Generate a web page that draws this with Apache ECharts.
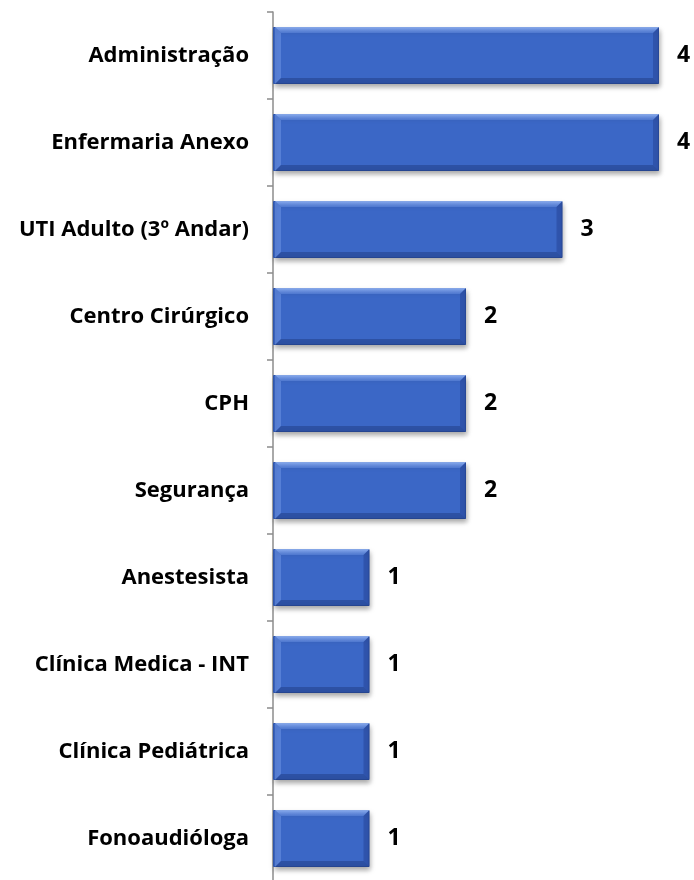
<!DOCTYPE html>
<html>
<head>
<meta charset="utf-8">
<script src="https://cdn.jsdelivr.net/npm/echarts@6/dist/echarts.min.js"></script>
<style>
  html, body { margin: 0; padding: 0; background: #fff; }
  #chart { width: 694px; height: 880px; }
</style>
</head>
<body>
<div id="chart"></div>
<script>
// Occurrences per sector
const categories = [
  'Administração', 'Enfermaria Anexo', 'UTI Adulto (3º Andar)', 'Centro Cirúrgico',
  'CPH', 'Segurança', 'Anestesista', 'Clínica Medica - INT', 'Clínica Pediátrica', 'Fonoaudióloga'
];
const counts = [4, 4, 3, 2, 2, 2, 1, 1, 1, 1];

const FONT = '"Open Sans", Lato, sans-serif';
const BAR_W = 57;
const BEVEL = 6;

const chart = echarts.init(document.getElementById('chart'));

// bevelled edges drawn over each bar
function renderBevel(params, api) {
  const idx = api.value(1);
  const val = api.value(0);
  const p0 = api.coord([0, idx]);
  const p1 = api.coord([val, idx]);
  const x0 = p0[0] + 2, x1 = p1[0];
  const y0 = p0[1] - BAR_W / 2, y1 = p0[1] + BAR_W / 2;
  const b = BEVEL;
  return {
    type: 'group',
    children: [
      { type: 'polygon', shape: { points: [[x0, y0], [x1, y0], [x1 - b, y0 + b], [x0 + b, y0 + b]] },
        style: { fill: new echarts.graphic.LinearGradient(0, 0, 0, 1, [
          { offset: 0, color: 'rgba(170,200,255,0.75)' }, { offset: 1, color: 'rgba(120,160,240,0.35)' }]) } },
      { type: 'polygon', shape: { points: [[x0, y0], [x0 + b, y0 + b], [x0 + b, y1 - b], [x0, y1]] },
        style: { fill: 'rgba(140,175,245,0.35)' } },
      { type: 'polygon', shape: { points: [[x0, y1], [x1, y1], [x1 - b, y1 - b], [x0 + b, y1 - b]] },
        style: { fill: 'rgba(20,40,100,0.35)' } },
      { type: 'polygon', shape: { points: [[x1, y0], [x1, y1], [x1 - b, y1 - b], [x1 - b, y0 + b]] },
        style: { fill: 'rgba(20,40,110,0.28)' } }
    ]
  };
}

chart.setOption({
  animation: false,
  grid: { left: 273, width: 386, top: 12, height: 870, outerBoundsMode: 'none', containLabel: false },
  xAxis: { type: 'value', min: 0, max: 4, show: false },
  yAxis: {
    type: 'category',
    data: categories,
    inverse: true,
    axisLine: { show: true, lineStyle: { color: '#8c8c8c', width: 1.5 } },
    axisTick: { show: true, length: 6, lineStyle: { color: '#8c8c8c', width: 1.5 } },
    axisLabel: { color: '#000', fontFamily: FONT, fontWeight: 'bold', fontSize: 22, margin: 24 }
  },
  series: [
    {
      type: 'bar',
      data: counts,
      barWidth: BAR_W,
      itemStyle: {
        color: '#3b67c6',
        borderColor: '#2f55a8',
        borderWidth: 1,
        shadowColor: 'rgba(0,0,0,0.35)',
        shadowBlur: 5,
        shadowOffsetY: 3,
        shadowOffsetX: 1
      },
      label: {
        show: true,
        position: 'right',
        distance: 18,
        color: '#000',
        fontFamily: FONT,
        fontWeight: 'bold',
        fontSize: 23
      }
    },
    {
      type: 'custom',
      silent: true,
      z: 3,
      renderItem: renderBevel,
      encode: { x: 0, y: 1 },
      data: counts.map((v, i) => [v, i])
    }
  ]
});
</script>
</body>
</html>
